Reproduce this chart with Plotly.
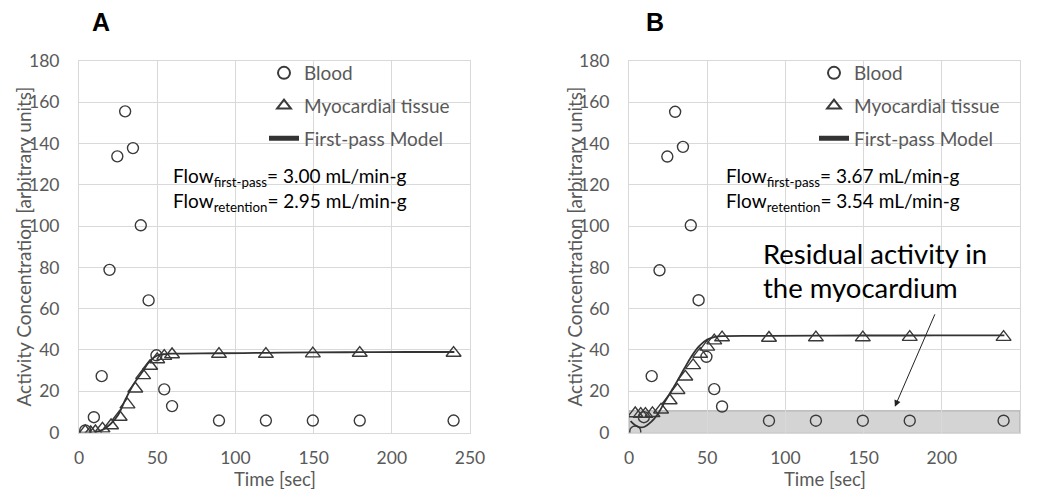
import plotly.graph_objects as go

# ---------------- data ----------------
blood_t = [4, 9.5, 14.5, 19.5, 24.5, 29.5, 34.5, 39.5, 44.5, 49.5, 54.5, 59.5, 89.5, 119.5, 149.5, 179.5, 239.5]
blood_A = [1, 7.4, 27.3, 78.8, 133.8, 155.6, 137.8, 100.4, 64, 37.4, 20.9, 12.8, 5.8, 5.8, 5.8, 5.8, 5.8]
blood_B = [0.5, 7.4, 27.3, 78.6, 133.7, 155.4, 138.4, 100.4, 64.1, 36.7, 21, 12.6, 5.7, 5.7, 5.7, 5.7, 5.7]

tissue_t = [4, 7.5, 10.5, 15, 20.5, 26, 31, 36, 41, 45.5, 50, 54.5, 59.5, 89.5, 119.5, 149.5, 179.5, 239.5]
tissue_A = [0.5, 0, 0.5, 1.8, 3.4, 7.5, 13.5, 21.2, 27.7, 32.2, 35.4, 37, 37.8, 38, 38, 38.2, 38.5, 38.5]
tissue_B = [9.2, 8.9, 8.9, 9.3, 11, 15.5, 20.5, 27, 32.5, 38, 41.5, 44.5, 46, 45.8, 46, 46, 46.2, 46.2]

model_A_t = [0, 5, 10, 15, 20, 25, 30, 35, 40, 45, 50, 55, 60, 90, 120, 150, 180, 210, 240]
model_A = [0, 0, 0.2, 1.3, 4, 8.5, 16.5, 23.5, 28.8, 34.3, 37.3, 38, 38.2, 38.4, 38.6, 38.8, 38.9, 39, 39]
model_B_t = [1, 4, 7, 10, 14, 18, 23, 29, 35, 40, 45, 50, 55, 60, 90, 120, 150, 180, 210, 240]
model_B = [5.5, 3.5, 2.5, 2.8, 5, 8.5, 15, 22.5, 30.5, 37, 42, 45, 46.3, 46.7, 46.8, 46.9, 47, 47, 47.1, 47.1]

residual_level = 10.5
x_ticks = [0, 50, 100, 150, 200, 250]
y_ticks = [0, 20, 40, 60, 80, 100, 120, 140, 160, 180]

flow_A = ["3.00", "2.95"]
flow_B = ["3.67", "3.54"]

# ---------------- layout helpers ----------------
# the page body has an 8px default margin; the figure is sized so the whole page fits 1037x499
OFF = 8
W, H = 1037 - 2 * OFF, 499 - 2 * OFF


def px(x):
    return (x - OFF) / W


def py(y):
    return 1 - (y - OFF) / H


FONT = "Lato"
GRAY = "#595959"
GRID = "#d9d9d9"
MK = "#3a3a3a"

fig = go.Figure()


def add_panel(xa, ya, bt, bv, tt, tv, mt, mv, leg):
    fig.add_trace(go.Scatter(x=bt, y=bv, mode="markers", name="Blood", xaxis=xa, yaxis=ya,
                             legend=leg, legendgroup=leg + "a",
                             marker=dict(symbol="circle-open", size=11, color=MK,
                                         line=dict(width=1.4, color=MK))))
    fig.add_trace(go.Scatter(x=tt, y=tv, mode="markers", name="Myocardial tissue", xaxis=xa, yaxis=ya,
                             legend=leg, legendgroup=leg + "b",
                             marker=dict(symbol="triangle-up-open", size=13, color=MK,
                                         line=dict(width=1.4, color=MK))))
    fig.add_trace(go.Scatter(x=mt, y=mv, mode="lines", name="First-pass Model", xaxis=xa, yaxis=ya,
                             legend=leg, legendgroup=leg + "c", line_shape="spline",
                             line=dict(color="#333333", width=1.8)))


add_panel("x", "y", blood_t, blood_A, tissue_t, tissue_A, model_A_t, model_A, "legend")
add_panel("x2", "y2", blood_t, blood_B, tissue_t, tissue_B, model_B_t, model_B, "legend2")

ydom = [py(432.5), py(61)]
axis_common = dict(range=[0, 250], tickvals=x_ticks, showgrid=True, gridcolor=GRID, gridwidth=1,
                   showline=True, linecolor=GRID, mirror=True, zeroline=False,
                   tickfont=dict(family=FONT, size=17.5, color=GRAY), ticks="", ticklabelstandoff=9,
                   automargin=False, fixedrange=True)
yaxis_common = dict(range=[0, 180], tickvals=y_ticks, showgrid=True, gridcolor=GRID, gridwidth=1,
                    showline=True, linecolor=GRID, mirror=True, zeroline=False,
                    tickfont=dict(family=FONT, size=17.5, color=GRAY), ticks="", ticklabelstandoff=15,
                    automargin=False, fixedrange=True)

legend_common = dict(font=dict(family=FONT, size=19, color=GRAY), bgcolor="rgba(0,0,0,0)",
                     xanchor="left", yanchor="top", tracegroupgap=5, itemsizing="constant",
                     traceorder="grouped")

fig.update_layout(
    width=W, height=H,
    margin=dict(l=0, r=0, t=0, b=0),
    paper_bgcolor="white", plot_bgcolor="white",
    xaxis=dict(domain=[px(79), px(470)], anchor="y", **axis_common),
    yaxis=dict(domain=ydom, anchor="x", **yaxis_common),
    xaxis2=dict(domain=[px(629), px(1020)], anchor="y2", **axis_common),
    yaxis2=dict(domain=ydom, anchor="x2", **yaxis_common),
    legend=dict(x=px(264), y=py(54), **legend_common),
    legend2=dict(x=px(814), y=py(54), **legend_common),
)

# axis titles
for xc in (22.5, 573.5):
    fig.add_annotation(xref="paper", yref="paper", x=px(xc), y=py(247), textangle=-90, showarrow=False,
                       xanchor="center", yanchor="middle",
                       text="Activity Concentration [arbitrary units]",
                       font=dict(family=FONT, size=19, color=GRAY))
for xc in (274.5, 824.5):
    fig.add_annotation(xref="paper", yref="paper", x=px(xc), y=0, showarrow=False,
                       xanchor="center", yanchor="bottom", text="Time [sec]", height=20, valign="middle",
                       font=dict(family=FONT, size=18.5, color=GRAY))

# residual activity band (panel B)
fig.add_shape(type="rect", xref="x2", yref="y2", x0=x_ticks[0], x1=x_ticks[-1], y0=0, y1=residual_level,
              fillcolor="#d4d4d4", line=dict(color="#a6a6a6", width=1), layer="below")


# flow annotations
def flow_text(x_left, vals):
    lines = [("first-pass", vals[0], 177), ("retention", vals[1], 202)]
    for sub, v, yc in lines:
        fig.add_annotation(xref="paper", yref="paper", x=px(x_left), y=py(yc),
                           xanchor="left", yanchor="middle", showarrow=False,
                           text=f"Flow<sub>{sub}</sub>= {v} mL/min-g",
                           font=dict(family=FONT, size=19, color="black"))


flow_text(171, flow_A)
flow_text(724, flow_B)

fig.add_annotation(xref="x2", yref="y2", x=170, y=12.5, ax=196, ay=58, axref="x2", ayref="y2",
                   showarrow=True, arrowhead=2, arrowsize=1.3, arrowwidth=1, arrowcolor="#222222", text="")
for txt, yc in (("Residual activity in", 253), ("the myocardium", 287)):
    fig.add_annotation(xref="paper", yref="paper", x=px(761), y=py(yc), xanchor="left", yanchor="middle",
                       showarrow=False, text=txt, height=30, valign="middle",
                       font=dict(family=FONT, size=27.5, color="black"))

# panel labels
for lab, xc in (("A", 101), ("B", 655)):
    fig.add_annotation(xref="paper", yref="paper", x=px(xc), y=py(22), showarrow=False,
                       xanchor="center", yanchor="middle",
                       text=f"<b>{lab}</b>", font=dict(family="Liberation Sans", size=25, color="black"))

fig.write_html("out.html")
